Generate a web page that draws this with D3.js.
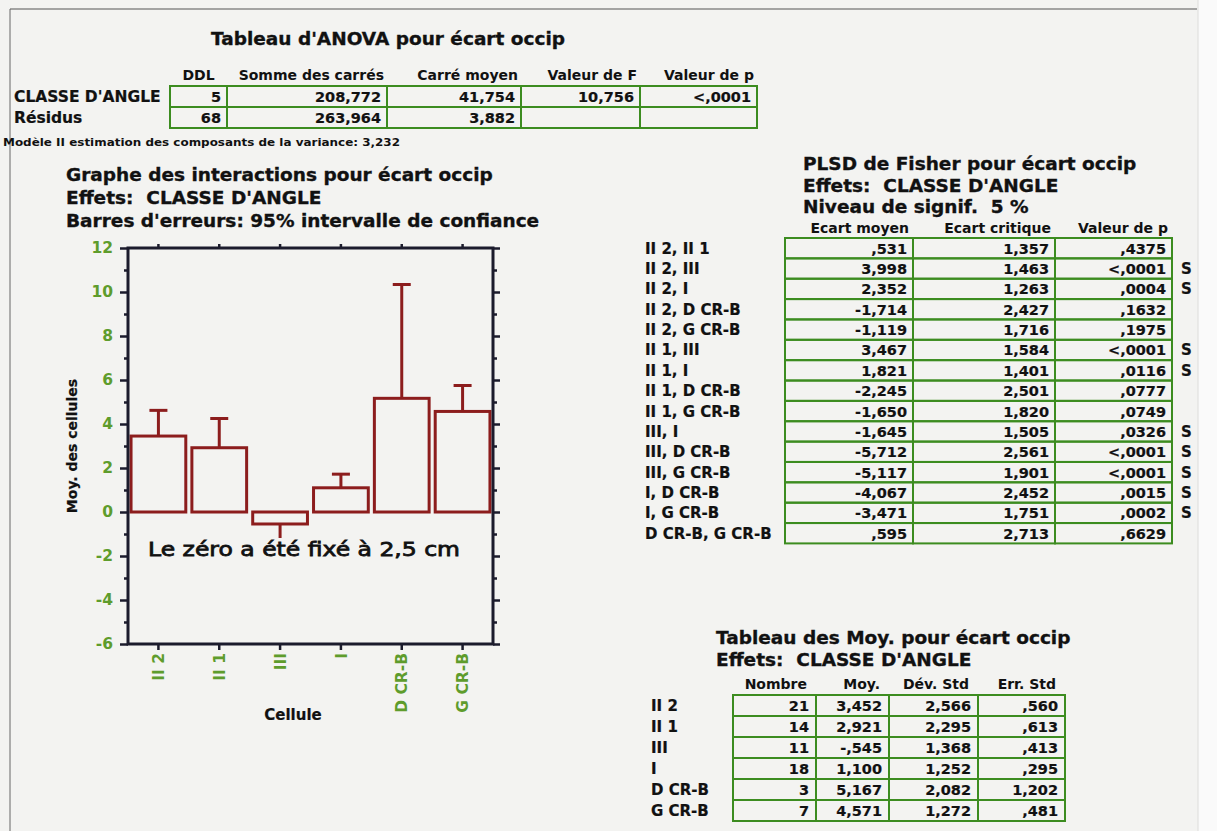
<!DOCTYPE html>
<html>
<head>
<meta charset="utf-8">
<script src="https://cdn.jsdelivr.net/npm/d3@7/dist/d3.min.js"></script>
<style>
  body { margin: 0; background: #f3f3f1; }
  text { font-family: "DejaVu Sans", sans-serif; white-space: pre; }
  .cell { fill: none; stroke: #3c8c20; stroke-width: 2; }
</style>
</head>
<body>
<svg id="page" width="1217" height="831"></svg>
<script>
// ---- ANOVA table ----
var anovaCols = ["DDL", "Somme des carrés", "Carré moyen", "Valeur de F", "Valeur de p"];
var anovaSources = ["CLASSE D'ANGLE", "Résidus"];
var anovaDDL = [5, 68];
var anovaSommeCarres = [208.772, 263.964];
var anovaCarreMoyen = [41.754, 3.882];
var anovaF = [10.756, null];
var anovaP = ["<,0001", ""];
var varianceComponent = 3.232;

// ---- cell means (chart + means table) ----
var cells = ["II 2", "II 1", "III", "I", "D CR-B", "G CR-B"];
var cellMeans = [3.452, 2.921, -0.545, 1.100, 5.167, 4.571];
var cellCI95 = [4.62, 4.25, -1.46, 1.72, 10.34, 5.75]; // end of the 95% error bar
var cellCounts = [21, 14, 11, 18, 3, 7];
var cellStdDev = [2.566, 2.295, 1.368, 1.252, 2.082, 1.272];
var cellStdErr = [0.560, 0.613, 0.413, 0.295, 1.202, 0.481];
var meansCols = ["Nombre", "Moy.", "Dév. Std", "Err. Std"];
var yMajorTicks = [-6, -4, -2, 0, 2, 4, 6, 8, 10, 12];
var yMinorTicks = [-5, -3, -1, 1, 3, 5, 7, 9, 11];

// ---- Fisher PLSD ----
var plsdCols = ["Ecart moyen", "Ecart critique", "Valeur de p"];
var plsdPairs = ["II 2, II 1", "II 2, III", "II 2, I", "II 2, D CR-B", "II 2, G CR-B",
  "II 1, III", "II 1, I", "II 1, D CR-B", "II 1, G CR-B", "III, I", "III, D CR-B",
  "III, G CR-B", "I, D CR-B", "I, G CR-B", "D CR-B, G CR-B"];
var plsdEcartMoyen = [0.531, 3.998, 2.352, -1.714, -1.119, 3.467, 1.821, -2.245, -1.650,
  -1.645, -5.712, -5.117, -4.067, -3.471, 0.595];
var plsdEcartCritique = [1.357, 1.463, 1.263, 2.427, 1.716, 1.584, 1.401, 2.501, 1.820,
  1.505, 2.561, 1.901, 2.452, 1.751, 2.713];
var plsdP = [",4375", "<,0001", ",0004", ",1632", ",1975", "<,0001", ",0116", ",0777",
  ",0749", ",0326", "<,0001", "<,0001", ",0015", ",0002", ",6629"];
var plsdSignif = [0, 1, 1, 0, 0, 1, 1, 0, 0, 1, 1, 1, 1, 1, 0];


var svg = d3.select("#page");
var bg = "#f3f3f1", ink = "#111", tickGreen = "#5e9c2c", barRed = "#8c1d1d", frameInk = "#1b1b2c";

// french number: 3 decimals, comma, no leading zero
var fr = function (v) {
  if (v === null) return "";
  var s = d3.format(".3f")(Math.abs(v));
  if (s.indexOf("0.") === 0) s = s.slice(1);
  return (v < 0 ? "-" : "") + s.replace(".", ",");
};

function label(x, y, s, o) {
  o = o || {};
  var t = svg.append("text")
    .attr("x", x).attr("y", y)
    .attr("font-size", o.size || 15)
    .attr("font-weight", o.weight || "bold")
    .attr("text-anchor", o.anchor || "start")
    .attr("fill", o.fill || ink)
    .text(s);
  if (o.heavy) t.attr("stroke", o.fill || ink).attr("stroke-width", o.heavy);
  if (o.w) t.attr("textLength", o.w).attr("lengthAdjust", "spacingAndGlyphs");
  return t;
}
function title(x, y, s, anchor) {
  return label(x, y, s, { size: 18.5, anchor: anchor, heavy: 0.35 });
}

// boxed table: edges = column borders, rows = array of string arrays
function boxTable(edges, top, rowH, rows, pad) {
  rows.forEach(function (row, i) {
    var y0 = top + i * rowH;
    row.forEach(function (s, j) {
      svg.append("rect").attr("class", "cell")
        .attr("x", edges[j]).attr("y", y0)
        .attr("width", edges[j + 1] - edges[j]).attr("height", rowH);
      label(edges[j + 1] - pad, y0 + rowH / 2 + 5.5, s, { anchor: "end", size: 14.5, heavy: 0.2 });
    });
  });
}

// page background and edges
svg.append("rect").attr("width", 1217).attr("height", 831).attr("fill", bg);
svg.append("rect").attr("x", 1198).attr("width", 19).attr("height", 831).attr("fill", "#fafafa");
svg.append("line").attr("x1", 1198).attr("x2", 1198).attr("y1", 0).attr("y2", 831)
  .attr("stroke", "#dcdcda").attr("stroke-width", 1);
svg.append("line").attr("x1", 10).attr("x2", 1197).attr("y1", 9).attr("y2", 9)
  .attr("stroke", "#555").attr("stroke-width", 1.1);
svg.append("line").attr("x1", 10).attr("x2", 10).attr("y1", 9).attr("y2", 831)
  .attr("stroke", "#666").attr("stroke-width", 1);

// ================= ANOVA =================
title(388, 45, "Tableau d'ANOVA pour écart occip", "middle");
var anovaEdges = [170, 227, 387, 521, 640, 757];
anovaCols.forEach(function (c, j) {
  if (j === 0) label((anovaEdges[0] + anovaEdges[1]) / 2, 80, c, { size: 14, anchor: "middle" });
  else label(anovaEdges[j + 1] - 3, 80, c, { size: 14, anchor: "end" });
});
anovaSources.forEach(function (s, i) { label(14, 102 + i * 21, s, { size: 15.5, heavy: 0.2 }); });
boxTable(anovaEdges, 86, 21, anovaSources.map(function (s, i) {
  return [String(anovaDDL[i]), fr(anovaSommeCarres[i]), fr(anovaCarreMoyen[i]), fr(anovaF[i]), anovaP[i]];
}), 6);
label(3, 146, "Modèle II estimation des composants de la variance: " + fr(varianceComponent),
  { size: 10.5, w: 397 });

// ================= interaction chart =================
title(66, 181, "Graphe des interactions pour écart occip");
title(66, 204, "Effets:  CLASSE D'ANGLE");
title(66, 227, "Barres d'erreurs: 95% intervalle de confiance");

var x0 = 128, x1 = 493, yTop = 248, yBot = 644;
var x = d3.scaleBand().domain(cells).range([x0, x1]).paddingInner(0.1).paddingOuter(0.05);
var y = d3.scaleLinear().domain([-6, 12]).range([yBot, yTop]);

function styleAxis(g) {
  g.select(".domain").remove();
  g.selectAll(".tick line").attr("stroke", frameInk).attr("stroke-width", 2.5);
  g.selectAll("text").attr("fill", tickGreen).attr("font-size", 15.5).attr("font-weight", "bold")
    .attr("font-family", "DejaVu Sans, sans-serif");
}

svg.append("g").attr("transform", "translate(" + x0 + ",0)")
  .call(d3.axisLeft(y).tickValues(yMajorTicks).tickSize(8).tickPadding(7)
    .tickFormat(function (d) { return String(d); }))
  .call(styleAxis);
svg.append("g").attr("transform", "translate(" + x0 + ",0)")
  .call(d3.axisLeft(y).tickValues(yMinorTicks).tickSize(4).tickFormat(""))
  .call(styleAxis);
svg.append("g").attr("transform", "translate(" + x1 + ",0)")
  .call(d3.axisRight(y).tickValues(yMajorTicks).tickSize(7).tickFormat(""))
  .call(styleAxis);
svg.append("g").attr("transform", "translate(" + x1 + ",0)")
  .call(d3.axisRight(y).tickValues(yMinorTicks).tickSize(4).tickFormat(""))
  .call(styleAxis);
svg.append("g").attr("transform", "translate(0," + yTop + ")")
  .call(d3.axisTop(x).tickSize(4).tickFormat(""))
  .call(styleAxis);
svg.append("g").attr("transform", "translate(0," + yBot + ")")
  .call(d3.axisBottom(x).tickSize(6))
  .call(styleAxis)
  .selectAll("text")
  .attr("transform", "rotate(-90)")
  .attr("x", -9).attr("y", 0).attr("dy", "0.36em")
  .attr("text-anchor", "end")
  .attr("font-size", 15.5);

// bars
svg.selectAll(".bar").data(cellMeans).enter().append("rect")
  .attr("class", "bar")
  .attr("x", function (d, i) { return x(cells[i]); })
  .attr("width", x.bandwidth())
  .attr("y", function (d) { return y(Math.max(0, d)); })
  .attr("height", function (d) { return Math.abs(y(d) - y(0)); })
  .attr("fill", "none").attr("stroke", barRed).attr("stroke-width", 3);

// error bars
var errG = svg.selectAll(".err").data(cellMeans).enter().append("g").attr("class", "err")
  .attr("transform", function (d, i) { return "translate(" + (x(cells[i]) + x.bandwidth() / 2) + ",0)"; });
errG.append("line")
  .attr("y1", function (d) { return y(d); })
  .attr("y2", function (d, i) { return y(cellCI95[i]); })
  .attr("stroke", barRed).attr("stroke-width", 3);
errG.append("line")
  .attr("x1", -9).attr("x2", 9)
  .attr("y1", function (d, i) { return y(cellCI95[i]); })
  .attr("y2", function (d, i) { return y(cellCI95[i]); })
  .attr("stroke", barRed).attr("stroke-width", 3);

// frame
svg.append("rect").attr("x", x0).attr("y", yTop).attr("width", x1 - x0).attr("height", yBot - yTop)
  .attr("fill", "none").attr("stroke", frameInk).attr("stroke-width", 3);

// note (opaque text box like the original)
svg.append("rect").attr("x", 146).attr("y", 538).attr("width", 318).attr("height", 24)
  .attr("fill", bg);
label(148, 556, "Le zéro a été fixé à 2,5 cm", { size: 20, weight: "normal", w: 312, heavy: 0.8 });

label(72, (yTop + yBot) / 2, "Moy. des cellules", { size: 14, anchor: "middle", heavy: 0.2 })
  .attr("transform", "rotate(-90,72," + (yTop + yBot) / 2 + ")").attr("dy", "0.36em");
label(293, 720, "Cellule", { size: 15, anchor: "middle", heavy: 0.2 });

// ================= Fisher PLSD =================
title(803, 170, "PLSD de Fisher pour écart occip");
title(803, 192, "Effets:  CLASSE D'ANGLE");
title(803, 213, "Niveau de signif.  5 %");
var plsdEdges = [785, 913, 1055, 1172];
var plsdTop = 238, plsdRowH = 20.36;
plsdCols.forEach(function (c, j) { label(plsdEdges[j + 1] - 4, 233, c, { size: 14, anchor: "end" }); });
plsdPairs.forEach(function (p, i) {
  var yy = plsdTop + i * plsdRowH + plsdRowH / 2 + 5.5;
  label(645, yy, p, { size: 15, heavy: 0.2 });
  if (plsdSignif[i]) label(1181, yy, "S", { size: 15, heavy: 0.2 });
});
boxTable(plsdEdges, plsdTop, plsdRowH, plsdPairs.map(function (p, i) {
  return [fr(plsdEcartMoyen[i]), fr(plsdEcartCritique[i]), plsdP[i]];
}), 6);

// ================= means table =================
title(716, 644, "Tableau des Moy. pour écart occip");
title(716, 666, "Effets:  CLASSE D'ANGLE");
var meansEdges = [733, 816, 889, 978, 1065];
var meansTop = 695, meansRowH = 21;
meansCols.forEach(function (c, j) { label(meansEdges[j + 1] - 9, 689, c, { size: 14, anchor: "end" }); });
cells.forEach(function (c, i) {
  label(651, meansTop + i * meansRowH + meansRowH / 2 + 5.5, c, { size: 15, heavy: 0.2 });
});
boxTable(meansEdges, meansTop, meansRowH, cells.map(function (c, i) {
  return [String(cellCounts[i]), fr(cellMeans[i]), fr(cellStdDev[i]), fr(cellStdErr[i])];
}), 7);
</script>
</body>
</html>
